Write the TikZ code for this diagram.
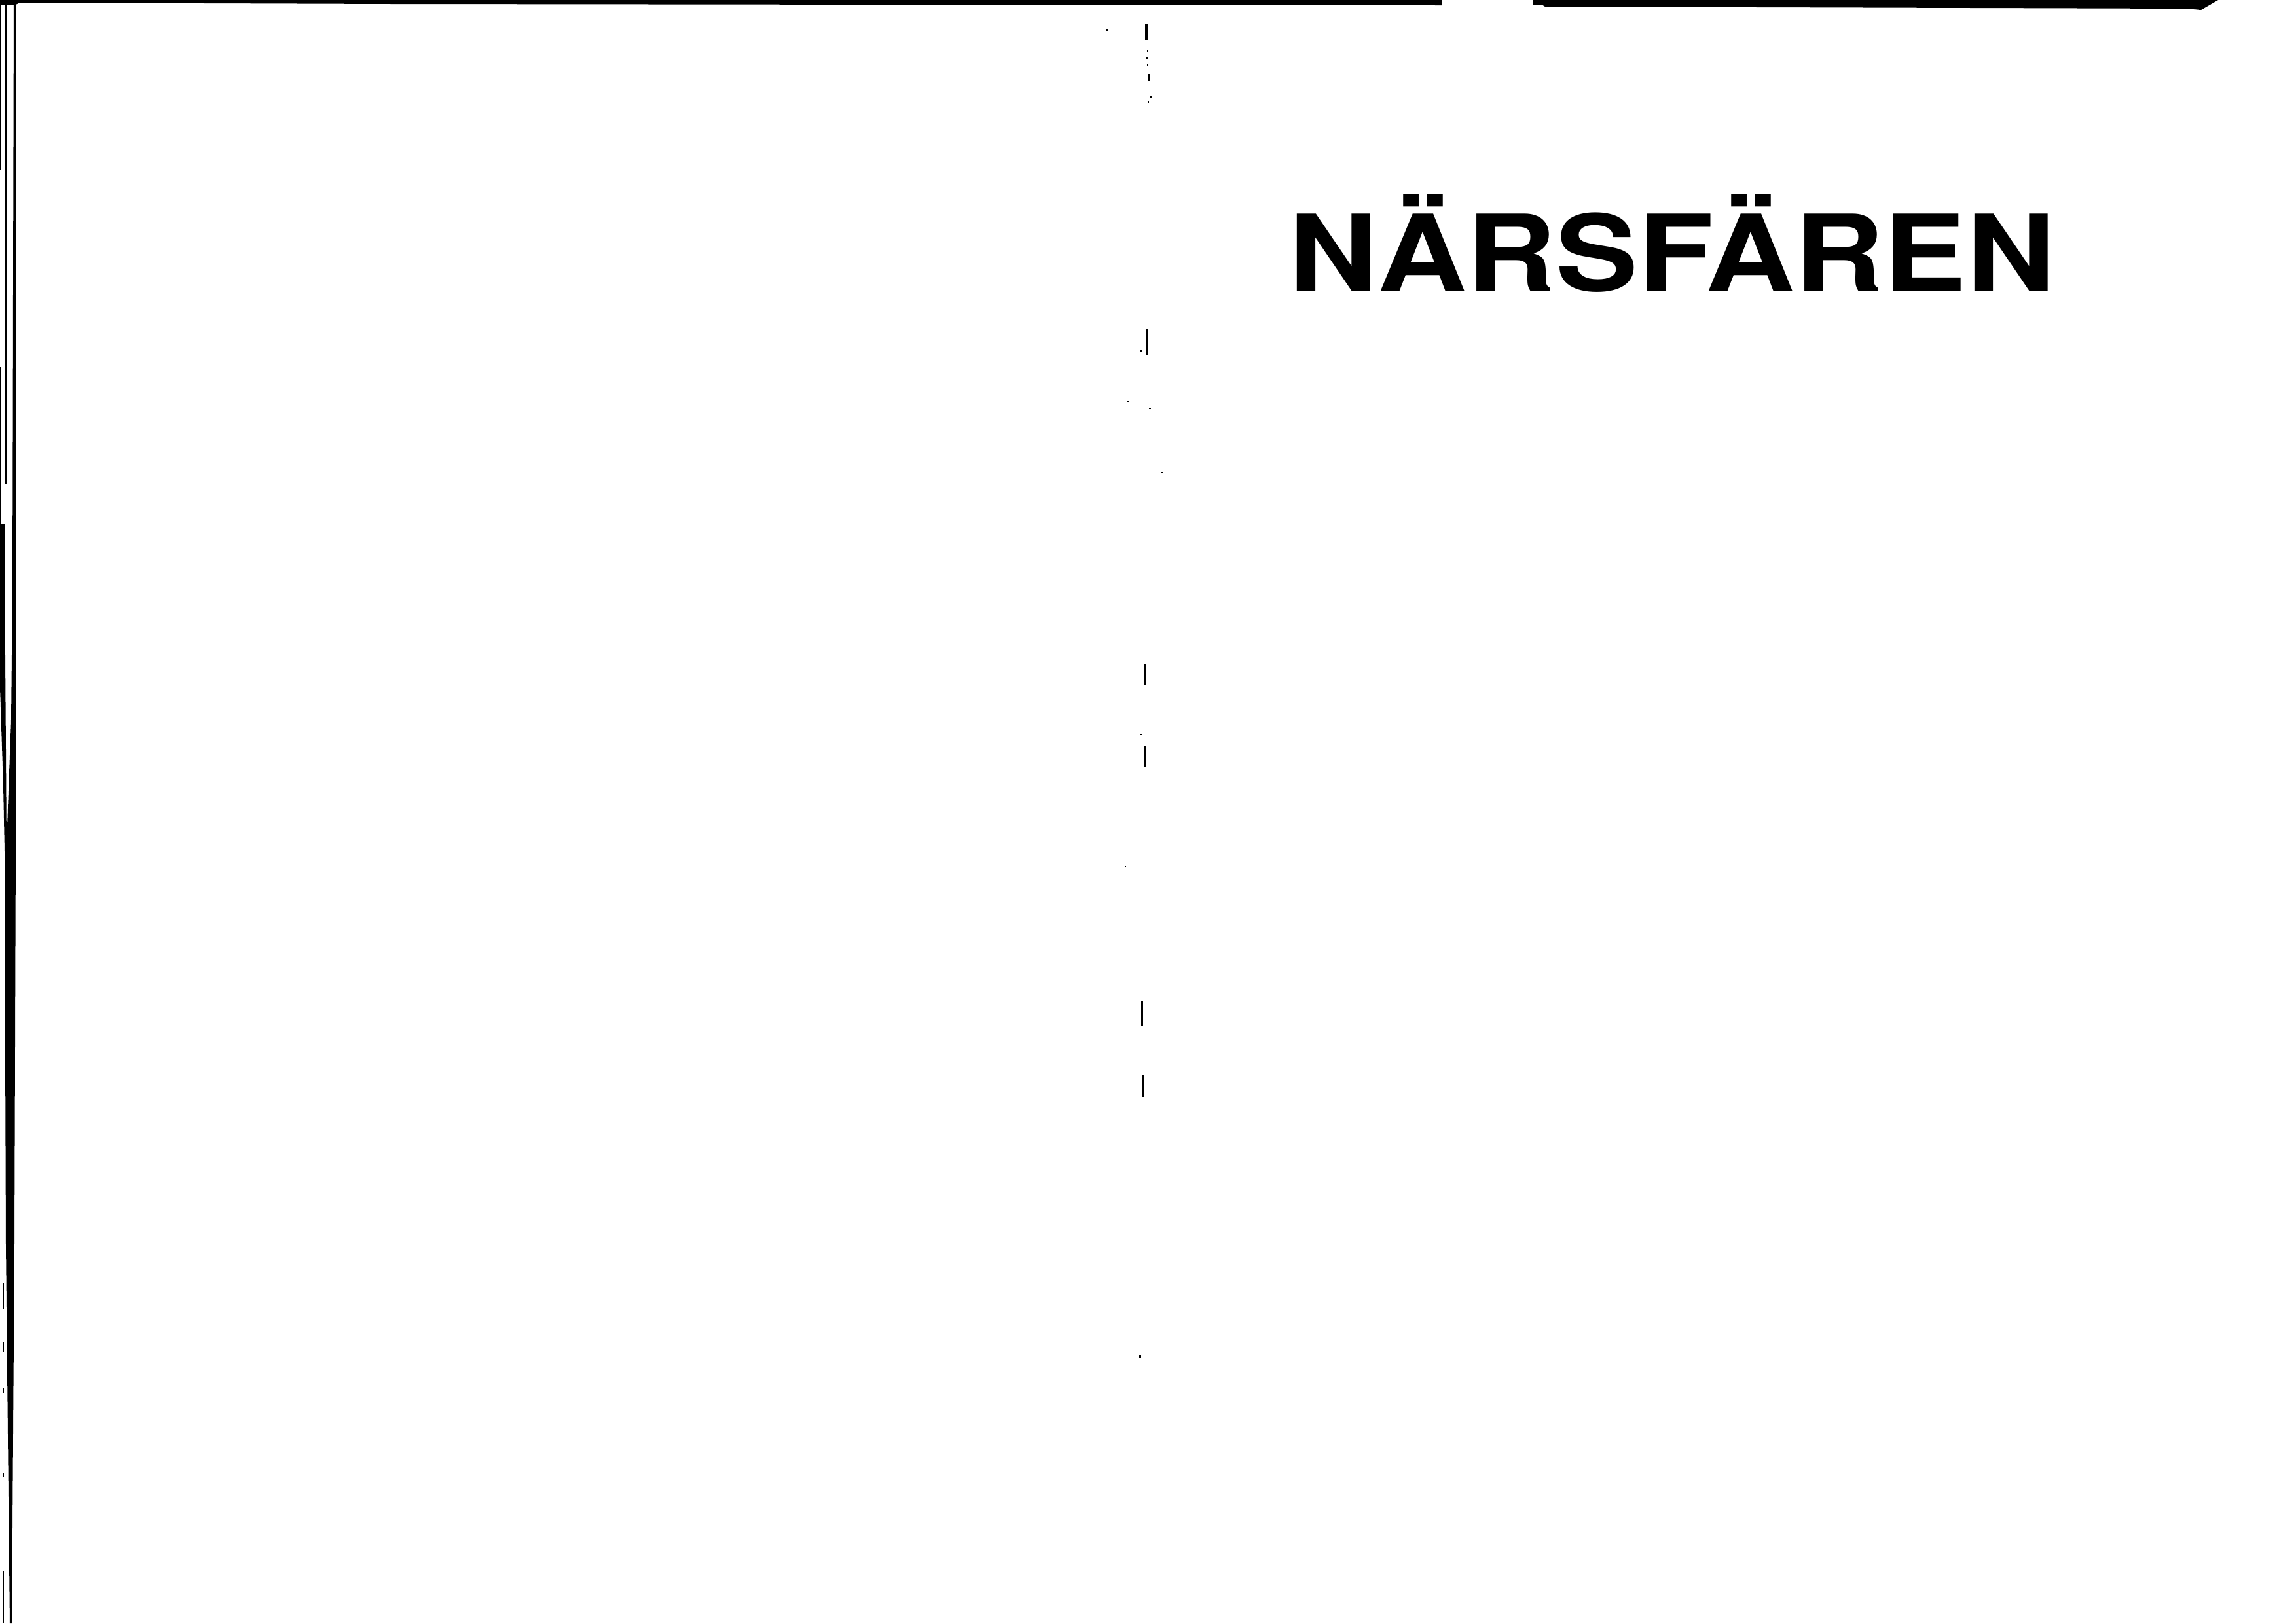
\documentclass[tikz,border=0pt]{standalone}
\usepackage{fontspec}
\setmainfont{TeX Gyre Heros}
\begin{document}
\begin{tikzpicture}[x=0.084688mm, y=-0.084688mm]

\def\pagew{3507}
\def\pageh{2480}
\def\titlesize{38.9}

\useasboundingbox (0,0) rectangle (\pagew,\pageh);
\fill[white] (0,0) rectangle (\pagew,\pageh);

% top edge of the sheet
\fill (0,0) -- (2202,0) -- (2202,8) -- (600,6) -- (30,4) -- (24,7) -- (0,7) -- cycle;
\fill (2341,0) -- (3388,0) -- (3362,15) -- (3340,13) -- (2360,10) -- (2355,7) -- (2341,7) -- cycle;

% left edge of the sheet
\fill (0,0) rectangle (2,260);
\fill (0,560) rectangle (2,800);
\fill (7,0) rectangle (9.5,740);
\fill (0,800) -- (7,800) -- (8,1000) -- (10,1290) -- (17,1100) -- (19,900) -- (21,0) -- (25,0)
  -- (24,1290) -- (23,1600) -- (22,1900) -- (18,2480) -- (15,2480) -- (9,1900) -- (7,1300)
  -- (5,1200) -- (0,1050) -- cycle;
\foreach \y/\h in {1960/40, 2050/15, 2120/8, 2250/6, 2400/80}
  \fill (5,\y) rectangle ++(1.5,\h);

% marks along the fold
\foreach \x/\y/\w/\h in {1749/37/5/24, 1689/44/3/3, 1752/76/2/3, 1751/87/2/3, 1752/98/2/3,
    1754/113/2/11, 1757/146/2/3, 1753/154/2/3, 1751/502/3/40, 1742/535/2/2, 1721/613/3/1,
    1755/624/3/1, 1774/721/2/2, 1748/1014/3/33, 1742/1122/3/1, 1747/1139/3/32, 1718/1323/2/1,
    1743/1529/3/38, 1744/1643/3/33, 1797/1941/2/1, 1739/2070/4/5}
  \fill (\x,\y) rectangle ++(\w,\h);

\node[font=\bfseries\fontsize{\titlesize}{\titlesize}\selectfont, xscale=1.168,
      inner sep=0, anchor=base west] (title) at (1968,444) {NÄRSFÄREN};

\end{tikzpicture}
\end{document}
